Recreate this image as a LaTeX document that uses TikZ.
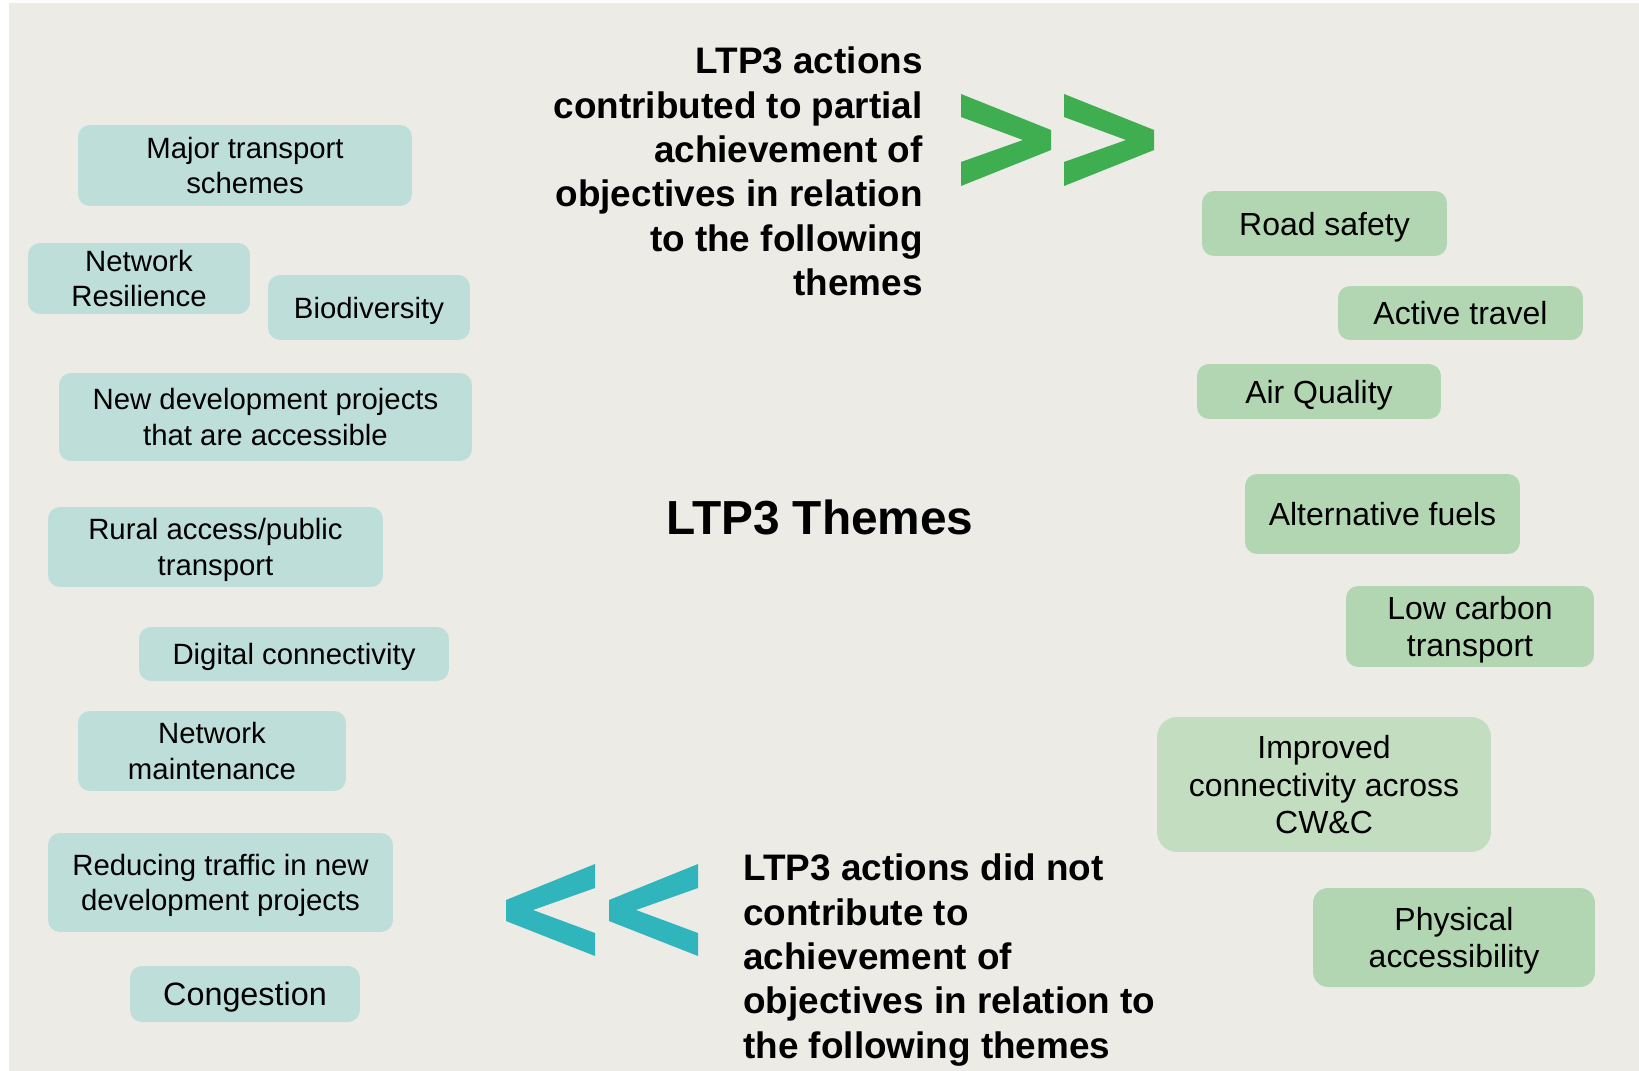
\documentclass[tikz,border=0pt]{standalone}
\usepackage{fontspec}
\setmainfont{Liberation Sans}
\usetikzlibrary{positioning}
\definecolor{slidebg}{RGB}{236,235,230}
\definecolor{boxteal}{RGB}{190,222,218}
\definecolor{boxgreen}{RGB}{178,213,178}
\definecolor{boxpale}{RGB}{195,221,192}
\definecolor{chevgreen}{RGB}{63,174,80}
\definecolor{chevteal}{RGB}{47,181,187}
\tikzset{
	theme/.style={rounded corners=0.24cm, inner sep=0pt, align=center, text depth=0pt},
	leftbox/.style={theme, fill=boxteal, font=\fontsize{16.7}{20.1}\selectfont},
	rightbox/.style={theme, fill=boxgreen, font=\fontsize{18.2}{21.5}\selectfont},
	bigtext/.style={inner sep=0pt, font=\bfseries\fontsize{21}{25.3}\selectfont},
}

\begin{document}
\begin{tikzpicture}[x=0.02cm, y=-0.02cm]
		%%%%% START %%%%%
		
		\useasboundingbox (0, 0) rectangle (1639, 1071);
		\fill[slidebg] (9, 3) rectangle (1639, 1071);
		
		% themes that were not helped
		\node[leftbox, minimum width=6.68cm, minimum height=1.62cm] (major) at (245, 165.5) {Major transport\\schemes};
		\node[leftbox, minimum width=4.44cm, minimum height=1.42cm] (resilience) at (139, 278.5) {Network\\Resilience};
		\node[leftbox, minimum width=4.04cm, minimum height=1.30cm] (biodiv) at (369, 307.5) {Biodiversity};
		\node[leftbox, minimum width=8.26cm, minimum height=1.76cm] (newdev) at (265.5, 417) {New development projects\\that are accessible};
		\node[leftbox, minimum width=6.70cm, minimum height=1.60cm] (rural) at (215.5, 547) {Rural access/public\\transport};
		\node[leftbox, minimum width=6.20cm, minimum height=1.08cm] (digital) at (294, 654) {Digital connectivity};
		\node[leftbox, minimum width=5.36cm, minimum height=1.60cm] (maint) at (212, 751) {Network\\maintenance};
		\node[leftbox, minimum width=6.90cm, minimum height=1.98cm] (traffic) at (220.5, 882.5) {Reducing traffic in new\\development projects};
		\node[leftbox, minimum width=4.60cm, minimum height=1.12cm, font=\fontsize{18.4}{21.5}\selectfont] (congestion) at (245, 994) {Congestion};
		
		% themes that were partly met
		\node[rightbox, minimum width=4.90cm, minimum height=1.30cm] (road) at (1324.5, 223.5) {Road safety};
		\node[rightbox, minimum width=4.90cm, minimum height=1.08cm] (active) at (1460.5, 313) {Active travel};
		\node[rightbox, minimum width=4.88cm, minimum height=1.10cm] (air) at (1319, 391.5) {Air Quality};
		\node[rightbox, minimum width=5.50cm, minimum height=1.60cm] (fuels) at (1382.5, 514) {Alternative fuels};
		\node[rightbox, minimum width=4.96cm, minimum height=1.62cm] (lowcarbon) at (1470, 626.5) {Low carbon\\transport};
		\node[rightbox, fill=boxpale, rounded corners=0.4cm, minimum width=6.68cm, minimum height=2.70cm] (connect) at (1324, 784.5) {Improved\\connectivity across\\CW\&C};
		\node[rightbox, rounded corners=0.3cm, minimum width=5.64cm, minimum height=1.98cm] (physical) at (1454, 937.5) {Physical\\accessibility};
		
		\node[font=\bfseries\fontsize{27.2}{30}\selectfont, inner sep=0pt] (title) at (820, 517) {LTP3 Themes};
		
		\node[bigtext, align=right, anchor=east] (partial) at (923, 171.5) {LTP3 actions\\contributed to partial\\achievement of\\objectives in relation\\to the following\\themes};
		\node[bigtext, align=left, anchor=west] (notmet) at (743, 960) {LTP3 actions did not\\contribute to\\achievement of\\objectives in relation to\\the following themes};
		
		% double chevrons
		\foreach \dx in {0, 103} {
			\fill[chevgreen] (961+\dx, 94) -- (1051+\dx, 130) -- (1051+\dx, 150) -- (961+\dx, 186) -- (961+\dx, 162) -- (1023+\dx, 140) -- (961+\dx, 117) -- cycle;
			\fill[chevteal] (595+\dx, 864) -- (595+\dx, 888) -- (533+\dx, 910) -- (595+\dx, 933) -- (595+\dx, 956) -- (506+\dx, 921) -- (506+\dx, 900) -- cycle;
		}
		
		%%%%% END %%%%%
\end{tikzpicture}
\end{document}
